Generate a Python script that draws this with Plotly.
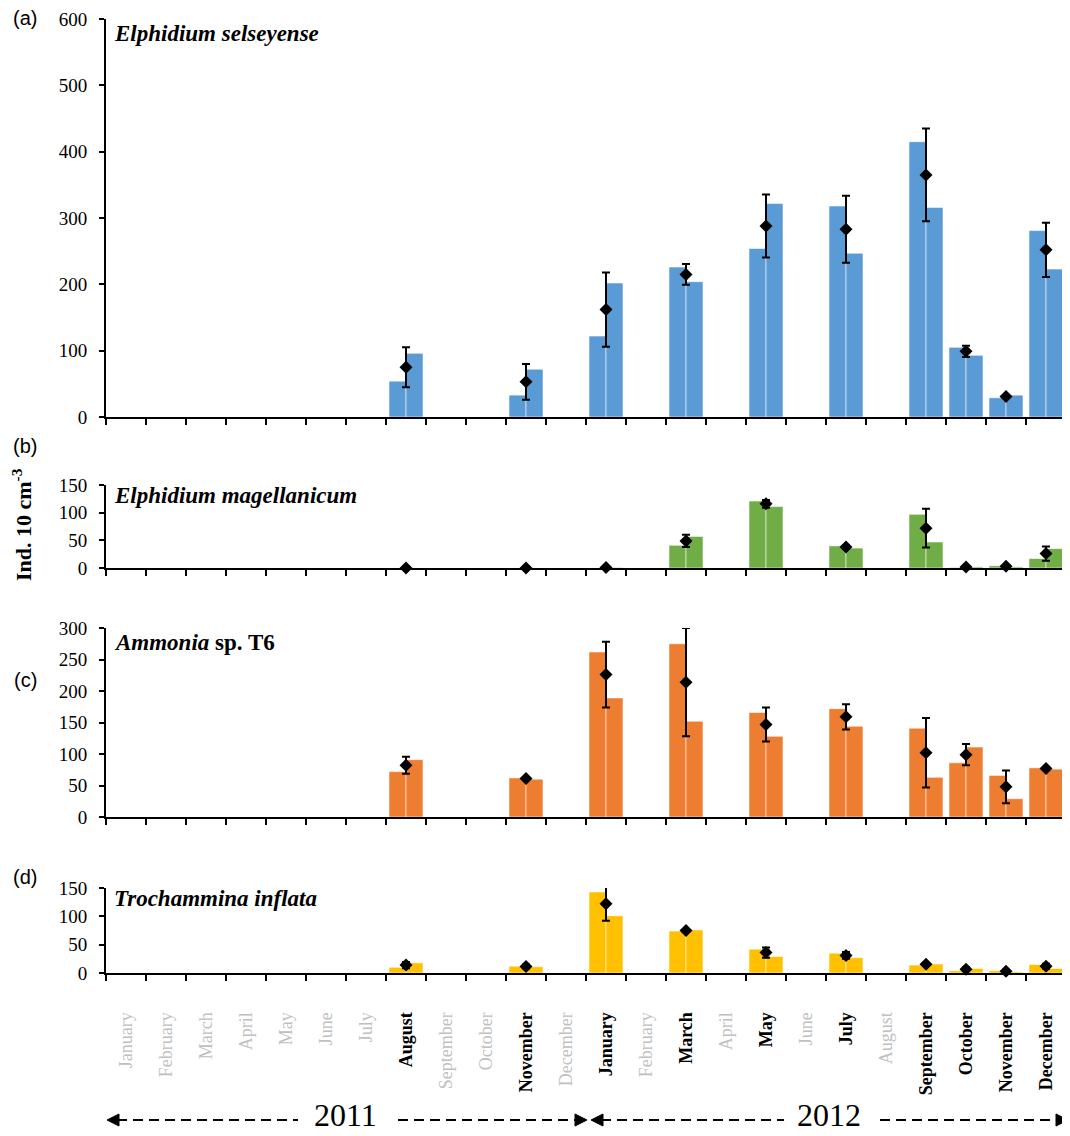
import plotly.graph_objects as go

# the page body adds an 8 px margin, so the figure is drawn that much in from the corner
OFF = 8
W, H = 1070 - OFF, 1136 - OFF

month_names = ["January", "February", "March", "April", "May", "June",
               "July", "August", "September", "October", "November", "December"]
years = [2011, 2012]
categories = [f"{m} {y}" for y in years for m in month_names]

sampled = ["August 2011", "November 2011", "January 2012", "March 2012", "May 2012",
           "July 2012", "September 2012", "October 2012", "November 2012", "December 2012"]

# (a) Elphidium selseyense
selseyense_rep1 = [54, 33, 122, 226, 254, 318, 415, 105, 29, 281]
selseyense_rep2 = [96, 72, 202, 204, 322, 247, 316, 93, 33, 223]
selseyense_mean = [75, 53, 162, 215, 288, 283, 365, 99, 31, 252]
selseyense_sd = [30, 27, 56, 15.5, 47.5, 50.5, 70, 8.5, 2, 41]

# (b) Elphidium magellanicum
magellanicum_rep1 = [0, 0, 0, 41, 121, 40, 97, 1, 4, 17]
magellanicum_rep2 = [0, 0, 1, 57, 111, 36, 47, 2, 2, 35]
magellanicum_mean = [0, 0, 1, 49, 116, 38, 72, 2, 3, 26]
magellanicum_sd = [0, 0, 0.5, 11, 7, 3, 35, 1, 1.5, 13]

# (c) Ammonia sp. T6
ammonia_rep1 = [72, 62, 262, 275, 166, 172, 141, 86, 66, 78]
ammonia_rep2 = [91, 60, 189, 152, 128, 144, 63, 111, 29, 76]
ammonia_mean = [82, 61, 226, 214, 147, 159, 102, 99, 48, 77]
ammonia_sd = [13.5, 2, 52, 86, 27, 20, 55, 17, 26, 1.5]

# (d) Trochammina inflata
trochammina_rep1 = [10, 12, 143, 74, 42, 35, 14, 4, 4, 15]
trochammina_rep2 = [18, 11, 101, 76, 29, 27, 16, 8, 2, 8]
trochammina_mean = [14, 11.5, 122, 75, 36, 31, 15.5, 6.5, 3, 12]
trochammina_sd = [5.5, 3.5, 30, 2, 9, 6, 2, 3, 2, 4.5]

tick_text = [
    f"<b>{c.split()[0]}</b>" if c in sampled
    else f"<span style='color:#bfbfbf'>{c.split()[0]}</span>"
    for c in categories
]


def px(x):
    return (x - OFF) / W


def py(y):
    return 1 - (y - OFF) / H


# letter, species title, data, colour, y max, dtick, (top px, bottom px), letter y px, title y px
panels = [
    ("(a)", "<b><i>Elphidium selseyense</i></b>",
     (selseyense_rep1, selseyense_rep2, selseyense_mean, selseyense_sd),
     "#5B9BD5", 600, 100, (19, 417), 18, 33),
    ("(b)", "<b><i>Elphidium magellanicum</i></b>",
     (magellanicum_rep1, magellanicum_rep2, magellanicum_mean, magellanicum_sd),
     "#70AD47", 150, 50, (485, 568), 446, 495),
    ("(c)", "<b><i>Ammonia</i> sp. T6</b>",
     (ammonia_rep1, ammonia_rep2, ammonia_mean, ammonia_sd),
     "#ED7D31", 300, 50, (628, 817), 680, 642),
    ("(d)", "<b><i>Trochammina inflata</i></b>",
     (trochammina_rep1, trochammina_rep2, trochammina_mean, trochammina_sd),
     "#FFC000", 150, 50, (888, 973), 877, 898),
]

fig = go.Figure()
annotations = []
layout_axes = {}

for i, (letter, title, (rep1, rep2, mean, sd), color, ymax, dtick, (top, bottom), ly, ty) in enumerate(panels, start=1):
    xr = "x" if i == 1 else f"x{i}"
    yr = "y" if i == 1 else f"y{i}"
    for k, rep in enumerate((rep1, rep2)):
        fig.add_trace(go.Bar(
            x=sampled, y=rep, xaxis=xr, yaxis=yr, offsetgroup=str(k),
            marker=dict(color=color, line=dict(color="rgba(255,255,255,0.55)", width=1)),
            showlegend=False,
        ))
    fig.add_trace(go.Scatter(
        x=sampled, y=mean, xaxis=xr, yaxis=yr, mode="markers",
        marker=dict(symbol="diamond", size=10, color="black"),
        error_y=dict(type="data", array=sd, color="black", thickness=2, width=4),
        cliponaxis=False, showlegend=False,
    ))

    layout_axes["xaxis" if i == 1 else f"xaxis{i}"] = dict(
        domain=[px(106), px(1066)], anchor=yr, type="category",
        categoryorder="array", categoryarray=categories, range=[-0.5, 23.5],
        tickmode="array", tickvals=categories, ticktext=tick_text,
        tickson="boundaries", ticks="outside", ticklen=6, tickwidth=2, tickcolor="black",
        showline=True, linecolor="black", linewidth=2, showgrid=False, zeroline=False,
        showticklabels=(i == 4), tickangle=-90, ticklabelstandoff=30,
        tickfont=dict(family="Liberation Serif", size=18, color="black"),
        automargin=False,
    )
    layout_axes["yaxis" if i == 1 else f"yaxis{i}"] = dict(
        domain=[py(bottom), py(top)], anchor=xr, range=[0, ymax], dtick=dtick,
        ticks="outside", ticklen=5, tickwidth=2, tickcolor="black",
        showline=True, linecolor="black", linewidth=2, showgrid=False, zeroline=False,
        tickfont=dict(family="Liberation Serif", size=19, color="black"),
        ticklabelstandoff=8, automargin=False,
    )

    annotations.append(dict(
        text=letter, x=px(25), y=py(ly), xref="paper", yref="paper",
        xanchor="center", yanchor="middle", showarrow=False,
        font=dict(family="Liberation Sans", size=20, color="black"),
    ))
    annotations.append(dict(
        text=title, x=px(112), y=py(ty), xref="paper", yref="paper",
        xanchor="left", yanchor="middle", showarrow=False,
        font=dict(family="Liberation Serif", size=23, color="black"),
    ))

annotations.append(dict(
    text="<b>Ind. 10 cm<sup>-3</sup></b>", x=px(22), y=py(525), xref="paper", yref="paper",
    xanchor="center", yanchor="middle", textangle=-90, showarrow=False,
    font=dict(family="Liberation Serif", size=22, color="black"),
))

# year banner with dashed arrows
year_y = 1120
for label, cx in (("2011", 345), ("2012", 829)):
    annotations.append(dict(
        text=label, x=px(cx), y=py(year_y - 5), xref="paper", yref="paper",
        xanchor="center", yanchor="middle", showarrow=False,
        font=dict(family="Liberation Serif", size=32, color="black"),
    ))

shapes = []
for x0, x1 in ((117, 298), (398, 578), (601, 784), (880, 1058)):
    shapes.append(dict(type="line", xref="paper", yref="paper",
                       x0=px(x0), x1=px(x1), y0=py(year_y), y1=py(year_y),
                       line=dict(color="black", width=2, dash="10px,6px")))
for tip, direction in ((107, 1), (587, -1), (591, 1), (1068, -1)):
    base = tip + direction * 12
    shapes.append(dict(
        type="path", xref="paper", yref="paper",
        path=(f"M {px(tip)} {py(year_y)} L {px(base)} {py(year_y - 6)} "
              f"L {px(base)} {py(year_y + 6)} Z"),
        fillcolor="black", line=dict(color="black", width=1),
    ))

fig.update_layout(
    width=W, height=H,
    margin=dict(l=0, r=0, t=0, b=0),
    paper_bgcolor="white", plot_bgcolor="white",
    barmode="group", bargap=0.15, bargroupgap=0,
    showlegend=False,
    annotations=annotations, shapes=shapes,
    **layout_axes,
)

fig.write_html("out.html")
